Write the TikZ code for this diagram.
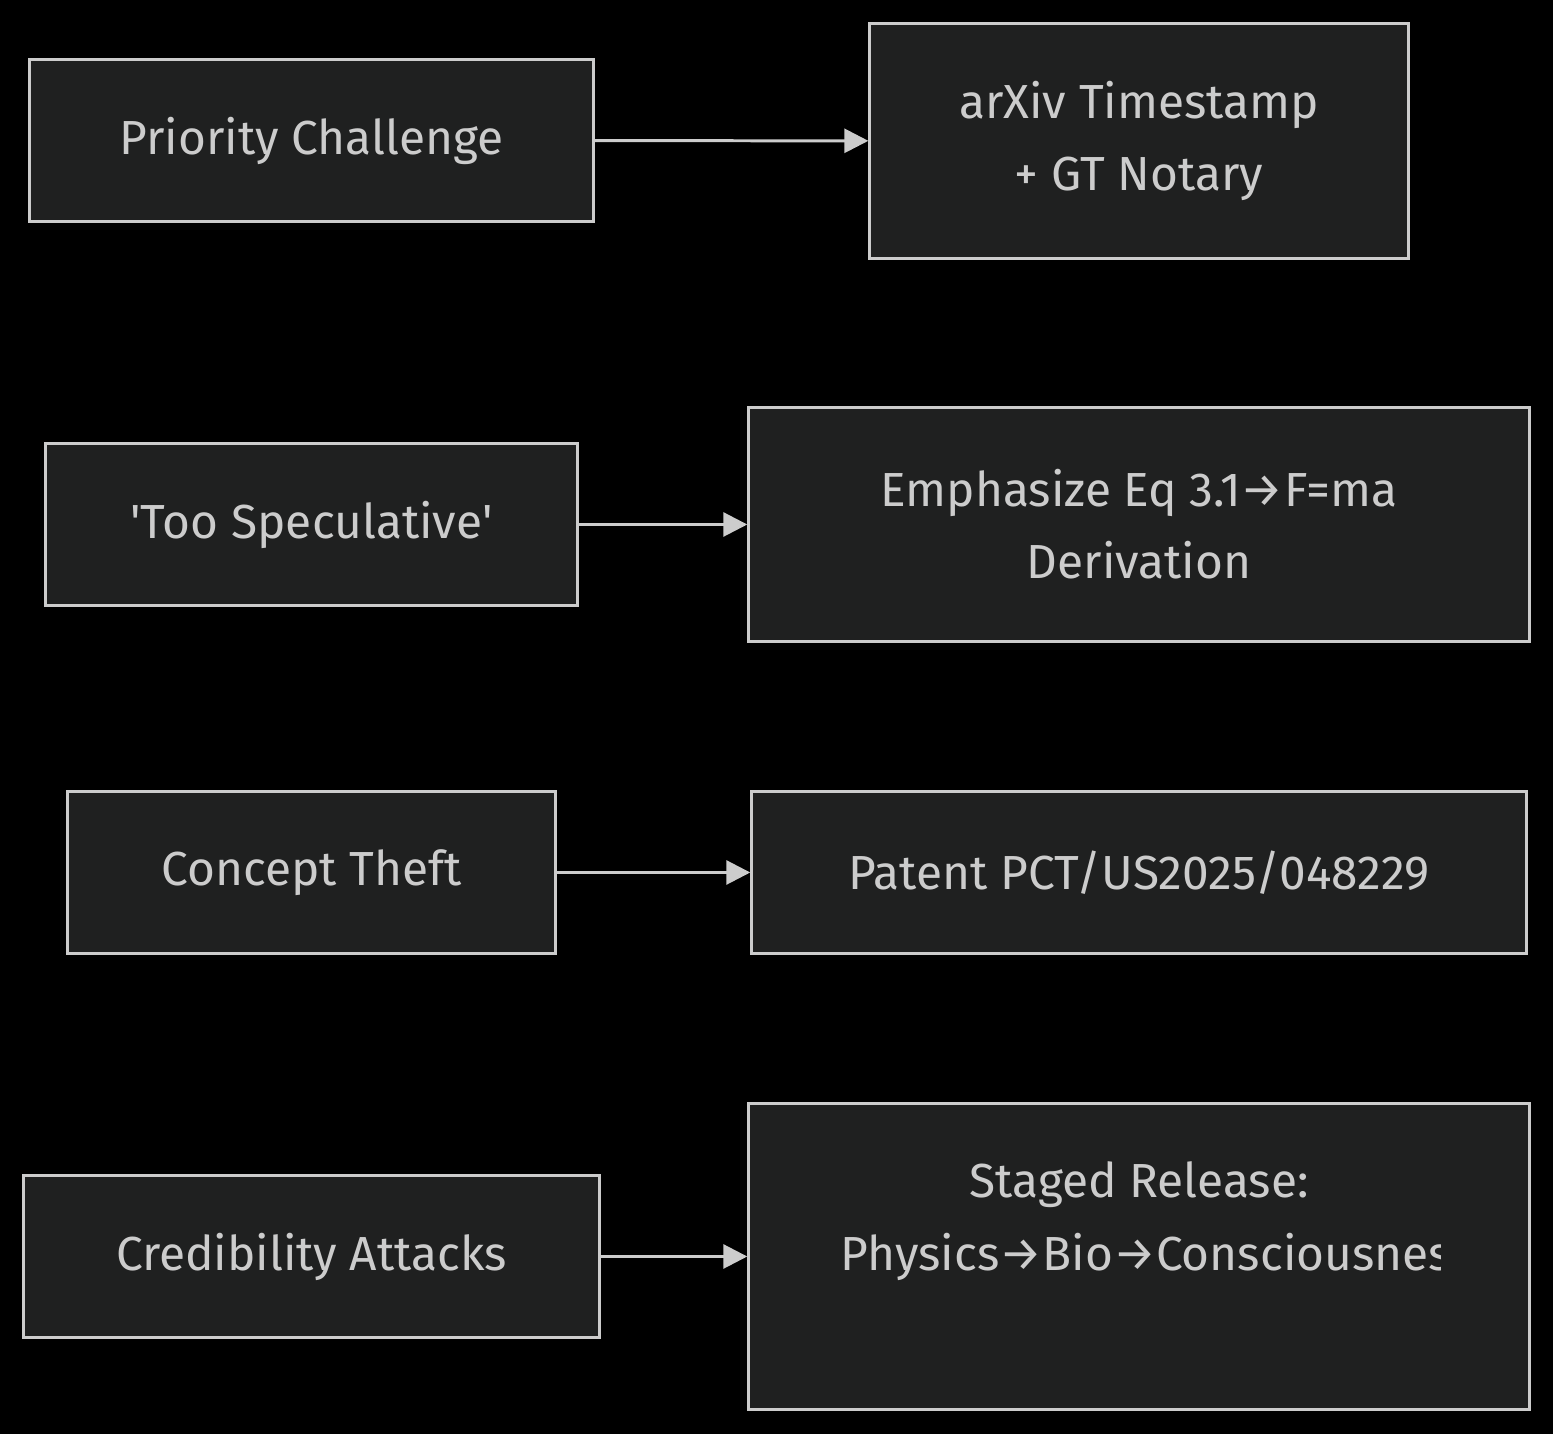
\documentclass[tikz,border=0pt]{standalone}
\usepackage{fontspec}
\setmainfont{Fira Sans}
\usepackage{tikz}
\usetikzlibrary{arrows.meta,positioning}
\definecolor{boxfill}{HTML}{1F2020}
\definecolor{edgegray}{HTML}{CCCCCC}
\definecolor{textgray}{HTML}{CCCCCC}

\begin{document}
\begin{tikzpicture}[x=0.01cm, y=-0.01cm,
	every node/.style={font=\fontsize{13.6pt}{20.4pt}\selectfont, text=textgray, align=center},
	box/.style={draw=edgegray, fill=boxfill, line width=0.85pt, inner sep=0pt},
	arr/.style={-{Triangle[length=0.24cm, width=0.24cm]}, draw=edgegray, fill=edgegray, line width=0.85pt}]
			\fill[black] (0,0) rectangle (1553,1434);
			\useasboundingbox (0,0) rectangle (1553,1434);
			
			% problems on the left
			\node[box, minimum width=5.63cm, minimum height=1.61cm] (prio) at (311.5,140.5) {Priority Challenge};
			\node[box, minimum width=5.31cm, minimum height=1.61cm] (spec) at (311.5,524.5) {\textquotesingle Too Speculative\textquotesingle};
			\node[box, minimum width=4.87cm, minimum height=1.61cm] (theft) at (311.5,872.5) {Concept Theft};
			\node[box, minimum width=5.75cm, minimum height=1.61cm] (cred) at (311.5,1256.5) {Credibility Attacks};
			
			% answers on the right
			\node[box, minimum width=5.38cm, minimum height=2.34cm] (arxiv) at (1139,141) {arXiv Timestamp\\+ GT Notary};
			\node[box, minimum width=7.80cm, minimum height=2.33cm] (eq) at (1139,524.5) {Emphasize Eq 3.1→F=ma\\Derivation};
			\node[box, minimum width=7.74cm, minimum height=1.61cm] (patent) at (1139,872.5) {Patent PCT/US2025/048229};
			\node[box, minimum width=7.80cm, minimum height=3.05cm] (staged) at (1139,1256.5) {};
			\node (stagedtop) at (1139,1185) {Staged Release:};
			\begin{scope}
				\clip (840,1140) rectangle (1440,1300);
				\node[anchor=west, inner sep=0pt] (stagedpath) at (840,1257) {Physics→Bio→Consciousness};
			\end{scope}
			
			\draw[arr] (prio) -- (arxiv);
			\draw[arr] (spec) -- (eq);
			\draw[arr] (theft) -- (patent);
			\draw[arr] (cred) -- (staged);
		\end{tikzpicture}
\end{document}
